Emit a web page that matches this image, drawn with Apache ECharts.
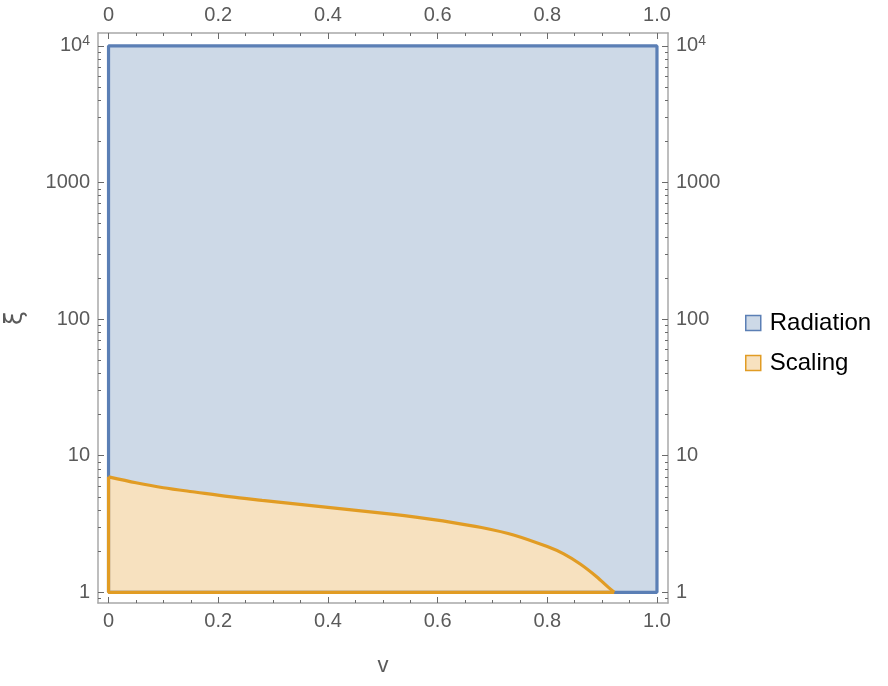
<!DOCTYPE html>
<html>
<head>
<meta charset="utf-8">
<script src="https://cdn.jsdelivr.net/npm/echarts@6/dist/echarts.min.js"></script>
<style>
  html, body { margin: 0; padding: 0; background: #fff; }
  #chart { width: 888px; height: 686px; }
</style>
</head>
<body>
<div id="chart"></div>
<script>
// region outlines (v, xi)
var radiationV = [0, 0, 1, 1, 0]
var radiationXi = [1, 10000, 10000, 1, 1]

var scalingV = [0, 0.05, 0.1, 0.16, 0.22, 0.28, 0.34, 0.40, 0.46, 0.52, 0.56, 0.62, 0.68, 0.74, 0.80, 0.83, 0.86, 0.89, 0.91, 0.922]
var scalingXi = [7.0, 6.34, 5.83, 5.40, 5.01, 4.71, 4.44, 4.19, 3.95, 3.72, 3.55, 3.28, 2.98, 2.62, 2.16, 1.91, 1.61, 1.30, 1.10, 1.0]

var xMajorTicks = [0, 0.2, 0.4, 0.6, 0.8, 1.0]
var xMinorTicks = [0.05, 0.1, 0.15, 0.25, 0.3, 0.35, 0.45, 0.5, 0.55, 0.65, 0.7, 0.75, 0.85, 0.9, 0.95]
var yMajorTicks = [1, 10, 100, 1000, 10000]
var yMinorTicks = [0.9, 2, 3, 4, 5, 6, 7, 8, 9, 20, 30, 40, 50, 60, 70, 80, 90,
  200, 300, 400, 500, 600, 700, 800, 900, 2000, 3000, 4000, 5000, 6000, 7000, 8000, 9000]

var blue = '#5b7fb5'
var blueFill = '#cdd9e7'
var orange = '#e19c24'
var orangeFill = '#f7e1bf'
var frameColor = '#a8a8a8'
var tickColor = '#6a6a6a'
var labelColor = '#5a5a5a'
var font = 'Liberation Sans'

var xMin = -0.0192
var xMax = 1.0201
var yMin = 0.835
var yMax = 12430

function pairs(xs, ys) {
  return xs.map(function (x, i) { return [x, ys[i]] })
}

function xLabel(v) {
  return v === 0 ? '0' : v.toFixed(1)
}

function yLabel(v) {
  return v >= 10000 ? '{b|10}{s|4}' : String(v)
}

var labelRich = {
  b: { fontSize: 20, color: labelColor, fontFamily: font },
  s: { fontSize: 14, color: labelColor, fontFamily: font, padding: [0, 0, 10, 0] },
}

function xAxis(position, ticks, length, labels) {
  return {
    type: 'value',
    position: position,
    min: xMin,
    max: xMax,
    axisLine: { show: labels, onZero: false, lineStyle: { color: frameColor, width: 1.5 } },
    axisTick: { show: true, inside: true, length: length, customValues: ticks, lineStyle: { color: tickColor, width: 1 } },
    axisLabel: {
      show: labels,
      customValues: xMajorTicks,
      formatter: xLabel,
      color: labelColor,
      fontSize: 20,
      fontFamily: font,
      margin: 8,
    },
    splitLine: { show: false },
  }
}

function yAxis(position, ticks, length, labels) {
  return {
    type: 'log',
    logBase: 10,
    position: position,
    min: yMin,
    max: yMax,
    axisLine: { show: labels, onZero: false, lineStyle: { color: frameColor, width: 1.5 } },
    axisTick: { show: true, inside: true, length: length, customValues: ticks, lineStyle: { color: tickColor, width: 1 } },
    axisLabel: {
      show: labels,
      customValues: yMajorTicks,
      formatter: yLabel,
      rich: labelRich,
      color: labelColor,
      fontSize: 20,
      fontFamily: font,
      margin: 8,
    },
    splitLine: { show: false },
    minorSplitLine: { show: false },
  }
}

var xBottom = xAxis('bottom', xMajorTicks, 6, true)
xBottom.name = 'v'
xBottom.nameLocation = 'middle'
xBottom.nameGap = 52
xBottom.nameTextStyle = { color: labelColor, fontSize: 22, fontFamily: font }

var yLeft = yAxis('left', yMajorTicks, 6, true)
yLeft.name = 'ξ'
yLeft.nameLocation = 'middle'
yLeft.nameRotate = 90
yLeft.nameGap = 70
yLeft.nameTextStyle = { color: labelColor, fontSize: 25, fontFamily: 'DejaVu Sans' }

var chart = echarts.init(document.getElementById('chart'), null, { renderer: 'canvas' })
chart.setOption({
  animation: false,
  backgroundColor: '#fff',
  grid: { left: 98, right: 220, top: 33, bottom: 83, containLabel: false, outerBoundsMode: 'none' },
  xAxis: [
    xBottom,
    xAxis('bottom', xMinorTicks, 3, false),
    xAxis('top', xMajorTicks, 6, true),
    xAxis('top', xMinorTicks, 3, false),
  ],
  yAxis: [
    yLeft,
    yAxis('left', yMinorTicks, 3, false),
    yAxis('right', yMajorTicks, 6, true),
    yAxis('right', yMinorTicks, 3, false),
  ],
  legend: {
    orient: 'vertical',
    left: 740,
    top: 306,
    icon: 'rect',
    itemWidth: 15,
    itemHeight: 15,
    itemGap: 16,
    textStyle: { color: '#000', fontSize: 24, fontFamily: font, padding: [0, 0, 0, 4] },
    data: [
      { name: 'Radiation', itemStyle: { color: blueFill, borderColor: blue, borderWidth: 1.5 } },
      { name: 'Scaling', itemStyle: { color: orangeFill, borderColor: orange, borderWidth: 1.5 } },
    ],
  },
  series: [
    {
      name: 'Radiation',
      type: 'line',
      data: pairs(radiationV, radiationXi),
      symbol: 'none',
      clip: false,
      lineStyle: { color: blue, width: 3.2 },
      itemStyle: { color: blue },
      areaStyle: { color: blueFill, opacity: 1, origin: 1 },
    },
    {
      name: 'Scaling',
      type: 'line',
      data: pairs(scalingV, scalingXi),
      symbol: 'none',
      smooth: 0.3,
      clip: false,
      lineStyle: { color: orange, width: 3.2 },
      itemStyle: { color: orange },
      areaStyle: { color: orangeFill, opacity: 1, origin: 1 },
    },
    {
      name: 'Scaling',
      type: 'line',
      data: [[scalingV[0], scalingXi[0]], [0, 1], [scalingV[scalingV.length - 1], 1]],
      symbol: 'none',
      clip: false,
      lineStyle: { color: orange, width: 3.2 },
      itemStyle: { color: orange },
    },
  ],
})
</script>
</body>
</html>
